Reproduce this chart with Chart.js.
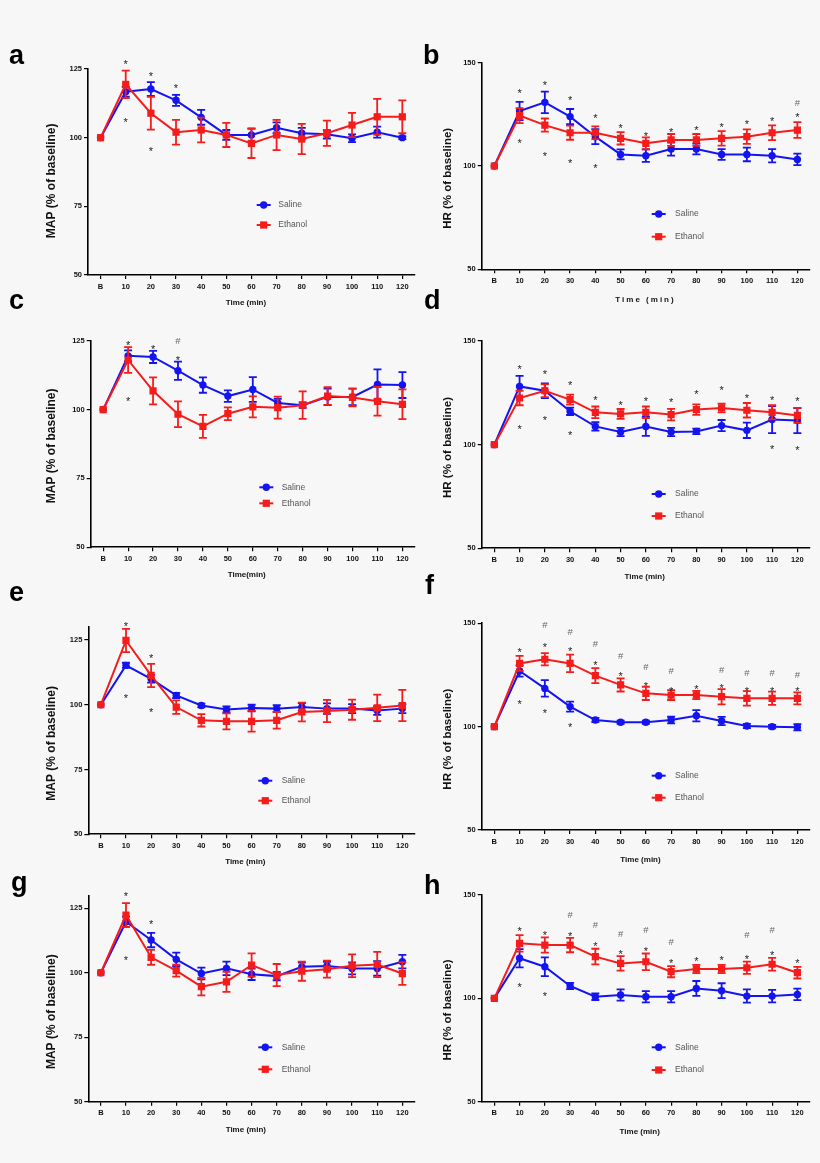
<!DOCTYPE html>
<html><head><meta charset="utf-8">
<script src="https://cdn.jsdelivr.net/npm/chart.js@4.4.1/dist/chart.umd.min.js"></script>
<style>
html,body{margin:0;padding:0;background:#f7f7f7;}
body{width:820px;height:1163px;position:relative;overflow:hidden;}
canvas{position:absolute;}
.lt{position:absolute;font:bold 27px "Liberation Sans",Arial,sans-serif;line-height:27px;color:#000;}
</style></head><body>
<script>
const timeLabels = ['B','10','20','30','40','50','60','70','80','90','100','110','120'];
const mapTicks = [50,75,100,125];
const hrTicks = [50,100,150];

// panel a (MAP)
const aSalineMean = [100,116.7,117.7,113.6,107.4,101,101,103.6,101.6,101.2,99.8,102,100];
const aSalineSem  = [0,1.8,2.5,2,2.7,1.8,2.4,2,2,1.5,1.4,2,0.5];
const aEthanolMean = [100,119.4,108.9,102,102.8,101,97.9,101,99.5,101.6,104.6,107.6,107.6];
const aEthanolSem  = [0,5,6,4.5,4.5,4.4,5.3,5.5,5.5,4.6,4.4,6.5,6];
const aMarks = [[1,127.7,'*'],[1,106.4,'*'],[2,123.2,'*'],[2,96.1,'*'],[3,118.9,'*']];

// panel b (HR)
const bSalineMean = [100,126.6,130.8,123.9,114.2,105.6,105,108.2,108.2,105.6,105.6,105,103.2];
const bSalineSem  = [0,4.4,5.2,3.7,3.6,2.4,3,3.2,2.6,2.6,3.3,3.2,2.8];
const bEthanolMean = [100,124.4,119.8,116.1,116.1,113.4,111,112.6,112.6,113.4,114.2,116.1,117.4];
const bEthanolSem  = [0,3.6,3.2,3.4,3.1,3,2.9,2.9,2.9,3.5,3.5,3.6,3.8];
const bMarks = [[1,136.5,'*'],[1,112.1,'*'],[2,140.5,'*'],[2,106.1,'*'],[3,133,'*'],[3,102.4,'*'],[4,124.2,'*'],[4,100,'*'],[5,119.4,'*'],[6,115.8,'*'],[7,117.4,'*'],[8,118.7,'*'],[9,120.2,'*'],[10,121.5,'*'],[11,123,'*'],[12,124.7,'*'],[12,130.6,'#']];

// panel c (MAP)
const cSalineMean = [100,119.5,119.1,114.1,108.9,104.9,107.3,102.4,101.6,104.6,104.6,109.1,108.9];
const cSalineSem  = [0,2,2.2,3.3,2.8,2.1,4.5,1.5,1,3,3,5.5,4.7];
const cEthanolMean = [100,118,106.8,98.3,93.9,98.5,101,100.7,101.6,104.9,104.4,103,101.9];
const cEthanolSem  = [0,4.7,4.9,4.7,4.2,2.3,3.8,4,5,3.2,3.2,5.2,5.4];
const cMarks = [[1,124.3,'*'],[1,104,'*'],[2,122.8,'*'],[3,118.9,'*'],[3,125.2,'#']];

// panel d (HR)
const dSalineMean = [100,128.1,126,116.1,108.8,106.1,108.8,106.1,106.4,109.2,106.9,112.1,111.6];
const dSalineSem  = [0,5.1,3.6,1.8,2,2,4.6,2,1.3,2.7,3.7,6.5,6];
const dEthanolMean = [100,122.5,126,121.7,115.6,114.8,115.6,114.5,116.9,117.7,116.6,115.6,114.1];
const dEthanolSem  = [0,3.5,3.1,2.4,2.8,2.4,2.8,2.8,2.5,2.1,3.5,3.4,3.6];
const dMarks = [[1,137.8,'*'],[1,108.8,'*'],[2,135,'*'],[2,112.9,'*'],[3,129.7,'*'],[3,105.6,'*'],[4,122.5,'*'],[5,120.4,'*'],[6,122.2,'*'],[7,121.7,'*'],[8,125.7,'*'],[9,127.3,'*'],[10,123.6,'*'],[11,122.5,'*'],[11,98.9,'*'],[12,122,'*'],[12,98.4,'*']];

// panel e (MAP)
const eSalineMean = [100,115.2,110,103.6,99.7,98.2,98.7,98.5,99.1,98.5,98.5,97.8,98.5];
const eSalineSem  = [0,1,1.5,1,0.7,1.2,1.3,1.3,1.5,2,1.7,1.7,1.7];
const eEthanolMean = [100,124.8,111.3,99.1,94,93.6,93.6,94,97.2,97.6,98.1,98.8,99.7];
const eEthanolSem  = [0,4.5,4.5,2.6,2.4,3.1,4,3.2,3.6,4.3,3.9,5.1,6];
const eMarks = [[1,131.3,'*'],[1,103.6,'*'],[2,118.8,'*'],[2,98.1,'*']];

// panel f (HR)
const fSalineMean = [100,126.9,118.5,109.7,103.2,102.1,102.1,103.2,105.3,102.7,100.3,100,99.7];
const fSalineSem  = [0,2.7,4,2.4,1,0.8,0.8,1.6,2.7,2,1,0.8,1.5];
const fEthanolMean = [100,130.6,132.6,130.6,124.7,120.2,116.1,115.3,115.3,114.5,113.7,113.7,113.7];
const fEthanolSem  = [0,3.6,3,4.2,3.6,3.2,3.2,2.4,2,3.7,3.5,3.2,2.9];
const fMarks = [[1,137.4,'*'],[1,112.1,'*'],[2,149.5,'#'],[2,139.8,'*'],[2,107.6,'*'],[3,146,'#'],[3,137.6,'*'],[3,100.8,'*'],[4,140.3,'#'],[4,131,'*'],[5,134.2,'#'],[5,125.8,'*'],[6,129,'#'],[6,121,'*'],[7,126.9,'#'],[7,118.5,'*'],[8,119.4,'*'],[9,127.4,'#'],[9,119.8,'*'],[10,126.1,'#'],[10,118.2,'*'],[11,126.1,'#'],[11,118.2,'*'],[12,125,'#'],[12,118.2,'*']];

// panel g (MAP)
const gSalineMean = [100,119.8,112.7,105.2,99.7,101.7,99.4,98.7,102.3,102.6,101.7,101.7,104.3];
const gSalineSem  = [0,2,2.8,2.6,2.3,2.6,2.2,1.6,1.6,1.6,2.3,2.8,2.6];
const gEthanolMean = [100,122.4,106,100.8,94.6,96.5,103,99.1,100.6,101.4,102.7,103.2,99.7];
const gEthanolSem  = [0,4.6,2.9,2.3,3.4,3.9,4.5,4.3,3.7,3.3,4.4,4.9,4.4];
const gMarks = [[1,130.8,'*'],[1,105.8,'*'],[2,119.8,'*']];

// panel h (HR)
const hSalineMean = [100,119.4,115.3,106,100.8,101.6,100.8,100.8,104.8,103.7,101.1,101.1,101.9];
const hSalineSem  = [0,4.4,4.5,1.5,1.6,2.7,2.7,2.7,3.6,3.6,3.2,3,2.8];
const hEthanolMean = [100,126.6,125.8,125.8,120.2,116.9,117.7,112.9,114.2,114.2,114.8,116.5,112.4];
const hEthanolSem  = [0,4,3.7,3.5,3.8,3.5,4,2.7,2,2,3,3.1,2.8];
const hMarks = [[1,133.9,'*'],[1,106.5,'*'],[2,131.8,'*'],[2,102.1,'*'],[3,140.3,'#'],[3,131.1,'*'],[4,135.5,'#'],[4,126.3,'*'],[5,131.5,'#'],[5,122.6,'*'],[6,133.1,'#'],[6,123.9,'*'],[7,127.4,'#'],[7,118.1,'*'],[8,119.4,'*'],[9,119.7,'*'],[10,130.6,'#'],[10,120.2,'*'],[11,133.1,'#'],[11,122.3,'*'],[12,118.1,'*']];

const seriesNames = ['Saline','Ethanol'];
const mapTitle = 'MAP (% of baseline)';
const hrTitle = 'HR (% of baseline)';

const FONT = '"Liberation Sans", Arial, Helvetica, sans-serif';
const BLUE = 'rgb(20,20,240)';
const RED = 'rgb(245,28,28)';

// layout (page pixels): box = canvas [x,y,w,h], area = plot [l,t,r,b]
const panels = [
 {letter:'a', lp:[9,65], yTicks:mapTicks, yMax:125, yText:mapTitle, xText:'Time (min)', sal:[aSalineMean,aSalineSem], eth:[aEthanolMean,aEthanolSem], marks:aMarks,
  box:[0,40,420,270], area:[88,69,416,275], yT:[52,180.8], xT:[246,303], xSp:0, leg:[256.7,205,225,278.3]},
 {letter:'b', lp:[423,65], yTicks:hrTicks, yMax:150, yText:hrTitle, xText:'Time (min)', sal:[bSalineMean,bSalineSem], eth:[bEthanolMean,bEthanolSem], marks:bMarks,
  box:[420,40,400,270], area:[481.7,62.7,810,269.3], yT:[447.5,178.3], xT:[645.5,300], xSp:2, leg:[651.7,214,236.7,675]},
 {letter:'c', lp:[9,310], yTicks:mapTicks, yMax:125, yText:mapTitle, xText:'Time(min)', sal:[cSalineMean,cSalineSem], eth:[cEthanolMean,cEthanolSem], marks:cMarks,
  box:[0,315,420,270], area:[90.7,340.7,416.7,547.3], yT:[51.7,445.8], xT:[246.7,575], xSp:0, leg:[259.3,487.3,503.3,281.7]},
 {letter:'d', lp:[424,310], yTicks:hrTicks, yMax:150, yText:hrTitle, xText:'Time (min)', sal:[dSalineMean,dSalineSem], eth:[dEthanolMean,dEthanolSem], marks:dMarks,
  box:[420,315,400,270], area:[481.7,341,810,548.3], yT:[447.5,447.5], xT:[644.7,576.7], xSp:0, leg:[651.7,494,516,675]},
 {letter:'e', lp:[9,602], yTicks:mapTicks, yMax:130, yText:mapTitle, xText:'Time (min)', sal:[eSalineMean,eSalineSem], eth:[eEthanolMean,eEthanolSem], marks:eMarks,
  box:[0,595,420,275], area:[88.3,627,415,834.3], yT:[52,743.3], xT:[245.3,861.7], xSp:0, leg:[258.3,780.7,800.7,281.7]},
 {letter:'f', lp:[425,595], yTicks:hrTicks, yMax:150, yText:hrTitle, xText:'Time (min)', sal:[fSalineMean,fSalineSem], eth:[fEthanolMean,fEthanolSem], marks:fMarks,
  box:[420,595,400,275], area:[481.7,623.3,810,830], yT:[447.5,739.2], xT:[640.5,860], xSp:0, leg:[651.7,775.7,797.7,675]},
 {letter:'g', lp:[11,892], yTicks:mapTicks, yMax:130, yText:mapTitle, xText:'Time (min)', sal:[gSalineMean,gSalineSem], eth:[gEthanolMean,gEthanolSem], marks:gMarks,
  box:[0,875,420,270], area:[88.3,895.4,415,1101.7], yT:[51.7,1011.7], xT:[245.8,1130], xSp:0, leg:[258.3,1047.3,1069.3,281.7]},
 {letter:'h', lp:[424,895], yTicks:hrTicks, yMax:150, yText:hrTitle, xText:'Time (min)', sal:[hSalineMean,hSalineSem], eth:[hEthanolMean,hEthanolSem], marks:hMarks,
  box:[420,875,400,270], area:[481.7,895,810,1101.7], yT:[447.5,1010], xT:[639.7,1131.7], xSp:0, leg:[651.7,1047.3,1070,675]}
];

function drawMarker(ctx, x, y, style, color){
  ctx.fillStyle = color;
  ctx.beginPath();
  if (style === 'circle') { ctx.arc(x, y, 3.7, 0, Math.PI*2); ctx.fill(); }
  else { ctx.fillRect(x-3.6, y-3.6, 7.2, 7.2); }
}

const decor = {
  id: 'decor',
  afterDatasetDraw(chart, args) {
    const ds = chart.data.datasets[args.index];
    if (!ds.errors) return;
    const xs = chart.scales.x, ys = chart.scales.y, ctx = chart.ctx;
    ctx.save();
    ctx.strokeStyle = ds.borderColor;
    ctx.lineWidth = 1.8;
    ds.data.forEach((v, i) => {
      const e = ds.errors[i];
      if (!e) return;
      const px = xs.getPixelForValue(i);
      const t = ys.getPixelForValue(v + e), b = ys.getPixelForValue(v - e);
      ctx.beginPath();
      ctx.moveTo(px, t); ctx.lineTo(px, b);
      ctx.moveTo(px - 4, t); ctx.lineTo(px + 4, t);
      ctx.moveTo(px - 4, b); ctx.lineTo(px + 4, b);
      ctx.stroke();
    });
    ctx.restore();
  },
  afterDraw(chart, args, o) {
    const ctx = chart.ctx, xs = chart.scales.x, ys = chart.scales.y;
    const ox = o.box[0], oy = o.box[1];
    ctx.save();
    // y title
    ctx.fillStyle = '#111';
    ctx.font = 'bold ' + o.yFont + 'px ' + FONT;
    ctx.textAlign = 'center'; ctx.textBaseline = 'middle';
    ctx.translate(o.yT[0] - ox, o.yT[1] - oy);
    ctx.rotate(-Math.PI / 2);
    ctx.fillText(o.yText, 0, 0);
    ctx.restore();
    ctx.save();
    // x title
    ctx.fillStyle = '#111';
    ctx.font = 'bold 8px ' + FONT;
    ctx.textAlign = 'center'; ctx.textBaseline = 'middle';
    if (o.xSp) ctx.letterSpacing = o.xSp + 'px';
    ctx.fillText(o.xText, o.xT[0] - ox, o.xT[1] - oy);
    ctx.letterSpacing = '0px';
    // legend
    const [lx, ly1, ly2, tx] = o.leg;
    const items = [[ly1, BLUE, 'circle', seriesNames[0]], [ly2, RED, 'rect', seriesNames[1]]];
    items.forEach(([ly, col, st, name]) => {
      const X = lx - ox, Y = ly - oy;
      ctx.strokeStyle = col; ctx.lineWidth = 2;
      ctx.beginPath(); ctx.moveTo(X, Y); ctx.lineTo(X + 14, Y); ctx.stroke();
      drawMarker(ctx, X + 7, Y, st, col);
      ctx.fillStyle = '#555';
      ctx.font = '8.5px ' + FONT;
      ctx.textAlign = 'left'; ctx.textBaseline = 'middle';
      ctx.fillText(name, tx - ox, Y);
    });
    // significance marks
    ctx.textAlign = 'center'; ctx.textBaseline = 'alphabetic';
    o.marks.forEach(([i, v, s]) => {
      const px = xs.getPixelForValue(i), py = ys.getPixelForValue(v);
      if (s === '*') { ctx.font = '11px ' + FONT; ctx.fillStyle = '#222'; ctx.fillText(s, px, py + 6.3); }
      else { ctx.font = '9.5px ' + FONT; ctx.fillStyle = '#666'; ctx.fillText(s, px, py + 3.4); }
    });
    ctx.restore();
  }
};

panels.forEach(p => {
  const [bx, by, bw, bh] = p.box;
  const [al, at, ar, ab] = p.area;
  const cv = document.createElement('canvas');
  cv.width = bw; cv.height = bh;
  cv.style.left = bx + 'px'; cv.style.top = by + 'px';
  cv.style.width = bw + 'px'; cv.style.height = bh + 'px';
  document.body.appendChild(cv);
  const lt = document.createElement('div');
  lt.className = 'lt';
  lt.textContent = p.letter;
  lt.style.left = p.lp[0] + 'px';
  lt.style.top = (p.lp[1] - 23) + 'px';
  document.body.appendChild(lt);

  const axisCommon = {
    grid: { display: true, drawOnChartArea: false, drawTicks: true, color: '#000', lineWidth: 1.2 },
    border: { display: true, color: '#000', width: 1.6 }
  };
  new Chart(cv, {
    type: 'line',
    data: {
      labels: timeLabels,
      datasets: [
        { label: seriesNames[0], data: p.sal[0], errors: p.sal[1], borderColor: BLUE, backgroundColor: BLUE,
          pointStyle: 'circle', pointRadius: 3.7, pointBorderWidth: 0, borderWidth: 2, tension: 0, order: 2 },
        { label: seriesNames[1], data: p.eth[0], errors: p.eth[1], borderColor: RED, backgroundColor: RED,
          pointStyle: 'rect', pointRadius: 5.1, pointBorderWidth: 0, borderWidth: 2, tension: 0, order: 1 }
      ]
    },
    options: {
      responsive: false, animation: false,
      layout: { padding: { left: 0, top: at - by, right: bx + bw - ar, bottom: 0 } },
      plugins: {
        legend: { display: false }, tooltip: { enabled: false },
        decor: { box: p.box, yT: p.yT, yText: p.yText, yFont: p.yTicks === hrTicks ? 11.5 : 12,
                 xT: p.xT, xText: p.xText, xSp: p.xSp, leg: p.leg, marks: p.marks }
      },
      scales: {
        x: {
          type: 'category', offset: true,
          grid: Object.assign({}, axisCommon.grid, { tickLength: 4 }),
          border: axisCommon.border,
          ticks: { autoSkip: false, maxRotation: 0, padding: 3, color: '#111', font: { family: FONT, size: 7.5, weight: 'bold' } },
          afterFit(s) { s.height = by + bh - ab; }
        },
        y: {
          type: 'linear', min: 50, max: p.yMax,
          grid: Object.assign({}, axisCommon.grid, { tickLength: 4 }),
          border: axisCommon.border,
          ticks: { padding: 2, color: '#111', font: { family: FONT, size: 7.5, weight: 'bold' } },
          afterBuildTicks(s) { s.ticks = p.yTicks.map(v => ({ value: v })); },
          afterFit(s) { s.width = al - bx; }
        }
      }
    },
    plugins: [decor]
  });
});
</script>
</body></html>
